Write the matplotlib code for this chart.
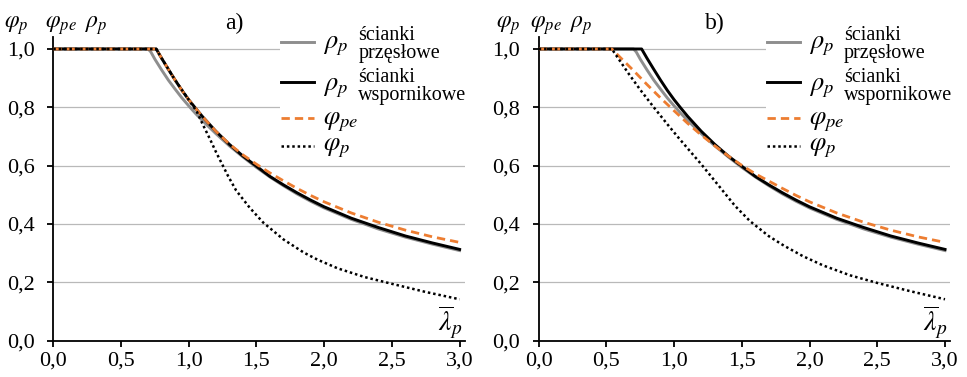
import numpy as np
import matplotlib.pyplot as plt
from matplotlib.patches import Rectangle

plt.rcParams['font.family'] = ['Liberation Serif', 'DejaVu Serif']
plt.rcParams['mathtext.fontset'] = 'stix'

# wartości (smukłość względna -> współczynnik)
lam_przeslowe = [0.0, 0.70, 0.72, 0.75, 0.80, 0.85, 0.90, 0.95, 1.00, 1.05, 1.10, 1.20, 1.30,
                 1.40, 1.50, 1.60, 1.70, 1.80, 1.90, 2.00, 2.20, 2.40, 2.60, 2.80, 3.00]
rho_przeslowe = [1.0, 1.0, 0.990, 0.965, 0.928, 0.893, 0.862, 0.832, 0.805, 0.779, 0.755, 0.710, 0.668,
                 0.630, 0.594, 0.561, 0.531, 0.503, 0.478, 0.455, 0.416, 0.383, 0.355, 0.331, 0.309]

lam_wspornikowe = [0.0, 0.76, 0.80, 0.85, 0.90, 0.95, 1.00, 1.05, 1.10, 1.20, 1.30, 1.40,
                   1.50, 1.60, 1.70, 1.80, 1.90, 2.00, 2.20, 2.40, 2.60, 2.80, 3.00]
rho_wspornikowe = [1.0, 1.0, 0.968, 0.930, 0.893, 0.858, 0.826, 0.797, 0.769, 0.718, 0.673, 0.633,
                   0.598, 0.563, 0.534, 0.507, 0.482, 0.459, 0.420, 0.388, 0.359, 0.335, 0.313]

lam_phi_pe_a = [0.0, 0.76, 0.80, 0.85, 0.90, 0.95, 1.00, 1.05, 1.10, 1.20, 1.30, 1.40,
                1.50, 1.60, 1.70, 1.80, 1.90, 2.00, 2.20, 2.40, 2.60, 2.80, 3.00]
phi_pe_a = [1.0, 1.0, 0.968, 0.930, 0.893, 0.858, 0.826, 0.797, 0.769, 0.718, 0.674, 0.637,
            0.605, 0.575, 0.548, 0.522, 0.498, 0.476, 0.438, 0.406, 0.379, 0.356, 0.337]

lam_phi_p_a = [0.0, 0.76, 0.80, 0.90, 1.00, 1.06, 1.10, 1.16, 1.20, 1.29, 1.35, 1.45,
               1.55, 1.70, 1.85, 1.95, 2.10, 2.30, 2.50, 2.75, 3.00]
phi_p_a = [1.0, 1.0, 0.968, 0.893, 0.826, 0.785, 0.745, 0.688, 0.648, 0.565, 0.515, 0.456,
           0.405, 0.347, 0.302, 0.278, 0.248, 0.218, 0.195, 0.167, 0.142]

lam_phi_pe_b = [0.0, 0.54, 0.60, 0.70, 0.80, 0.90, 1.00, 1.10, 1.20, 1.30, 1.40, 1.50,
                1.60, 1.70, 1.80, 1.90, 2.00, 2.20, 2.40, 2.60, 2.80, 3.00]
phi_pe_b = [1.0, 1.0, 0.972, 0.926, 0.878, 0.832, 0.788, 0.745, 0.705, 0.668, 0.633, 0.601,
            0.572, 0.547, 0.522, 0.498, 0.476, 0.438, 0.406, 0.379, 0.356, 0.337]

lam_phi_p_b = [0.0, 0.54, 0.66, 0.75, 0.85, 0.95, 1.03, 1.10, 1.20, 1.34, 1.45, 1.56,
               1.70, 1.81, 1.95, 2.10, 2.30, 2.50, 2.75, 3.00]
phi_p_b = [1.0, 1.0, 0.918, 0.860, 0.800, 0.742, 0.697, 0.659, 0.605, 0.525, 0.462, 0.410,
           0.358, 0.326, 0.290, 0.258, 0.224, 0.198, 0.169, 0.142]

x_ticks = [0.0, 0.5, 1.0, 1.5, 2.0, 2.5, 3.0]
x_labels = ['0,0', '0,5', '1,0', '1,5', '2,0', '2,5', '3,0']
y_ticks = [0.0, 0.2, 0.4, 0.6, 0.8, 1.0]
y_labels = ['0,0', '0,2', '0,4', '0,6', '0,8', '1,0']

GREY = '#8e8e8e'
ORANGE = '#ed7d31'
LW = 2.1
DASH_PE = (3.0, 1.8)
DASH_P = (1.0, 1.15)

W, H = 967, 377
AX_W, AX_H = 411.7, 303.4
Y0 = 340.7  # piksel osi y=0

fig = plt.figure(figsize=(W / 100, H / 100), dpi=100)


def panel(left_px, tag, lam_pe, phi_pe, lam_p, phi_p, top_px, tag_px):
    ax = fig.add_axes([left_px / W, (H - Y0) / H, AX_W / W, AX_H / H])

    def a(px, py):
        return (px - left_px) / AX_W, (Y0 - py) / AX_H

    ax.set_xlim(0, 3.04)
    ax.set_ylim(0, 1.04)
    for v in y_ticks[1:]:
        ax.axhline(v, color='#b9b9b9', lw=0.9, zorder=0)

    ax.plot(lam_przeslowe, rho_przeslowe, color=GREY, lw=LW, zorder=2)
    ax.plot(lam_wspornikowe, rho_wspornikowe, color='black', lw=LW, zorder=3)
    ax.plot(lam_pe, phi_pe, color=ORANGE, lw=2.0, dashes=DASH_PE, zorder=4)
    ax.plot(lam_p, phi_p, color='black', lw=1.8, dashes=DASH_P, zorder=5)

    for s in ['top', 'right']:
        ax.spines[s].set_visible(False)
    for s in ['left', 'bottom']:
        ax.spines[s].set_linewidth(1.3)
    ax.set_xticks(x_ticks)
    ax.set_xticklabels(x_labels)
    ax.set_yticks(y_ticks)
    ax.set_yticklabels(y_labels)
    ax.tick_params(axis='x', length=4, width=1.3, labelsize=16, pad=4)
    ax.tick_params(axis='y', length=4.5, width=1.3, labelsize=16, pad=9)

    # legenda rysowana recznie (biale tlo zaslania linie siatki)
    x0, _ = a(left_px + 227, 0)
    ax.add_patch(Rectangle((x0, a(0, 157)[1]), 1.05 - x0, 0.5, transform=ax.transAxes,
                           facecolor='white', edgecolor='none', zorder=1, clip_on=False))
    lx0 = a(left_px + 228, 0)[0]
    lx1 = a(left_px + 261, 0)[0]
    sx = a(left_px + 270, 0)[0]
    dx = a(left_px + 305, 0)[0]
    rows = [(41.7, 46, GREY, LW, None, r'$\rho_p$', 'ścianki\nprzęsłowe'),
            (81.7, 88, 'black', LW, None, r'$\rho_p$', 'ścianki\nwspornikowe'),
            (118, 122, ORANGE, 2.0, DASH_PE, r'$\varphi_{pe}$', None),
            (145.7, 148, 'black', 1.8, DASH_P, r'$\varphi_p$', None)]
    for line_py, sym_py, col, lw, dash, sym, desc in rows:
        ly = a(0, line_py)[1]
        kw = {} if dash is None else {'dashes': dash}
        ax.plot([lx0, lx1], [ly, ly], color=col, lw=lw, transform=ax.transAxes,
                clip_on=False, zorder=6, **kw)
        ax.text(sx, a(0, sym_py)[1], sym, fontsize=19, ha='left', va='center',
                transform=ax.transAxes)
        if desc:
            ax.text(dx, a(0, sym_py - 1.5)[1], desc, fontsize=14.5, ha='left', va='center',
                    linespacing=0.95, transform=ax.transAxes)

    # oznaczenia osi
    for px, s in zip(top_px, [r'$\varphi_p$', r'$\varphi_{pe}$', r'$\rho_p$']):
        ax.text(*a(px, 26), s, fontsize=17, ha='left', va='center', transform=ax.transAxes)
    ax.text(*a(tag_px, 23), tag, fontsize=17, ha='center', va='center', transform=ax.transAxes)
    ax.text(*a(left_px + 397, 322), r'$\overline{\lambda}_p$', fontsize=20, ha='center',
            va='center', transform=ax.transAxes)
    return ax


panel(53.3, 'a)', lam_phi_pe_a, phi_pe_a, lam_phi_p_a, phi_p_a, [4, 45, 85], 234)
panel(538.7, 'b)', lam_phi_pe_b, phi_pe_b, lam_phi_p_b, phi_p_b, [496, 530, 570], 715)

fig.savefig('out.png', dpi=100)
